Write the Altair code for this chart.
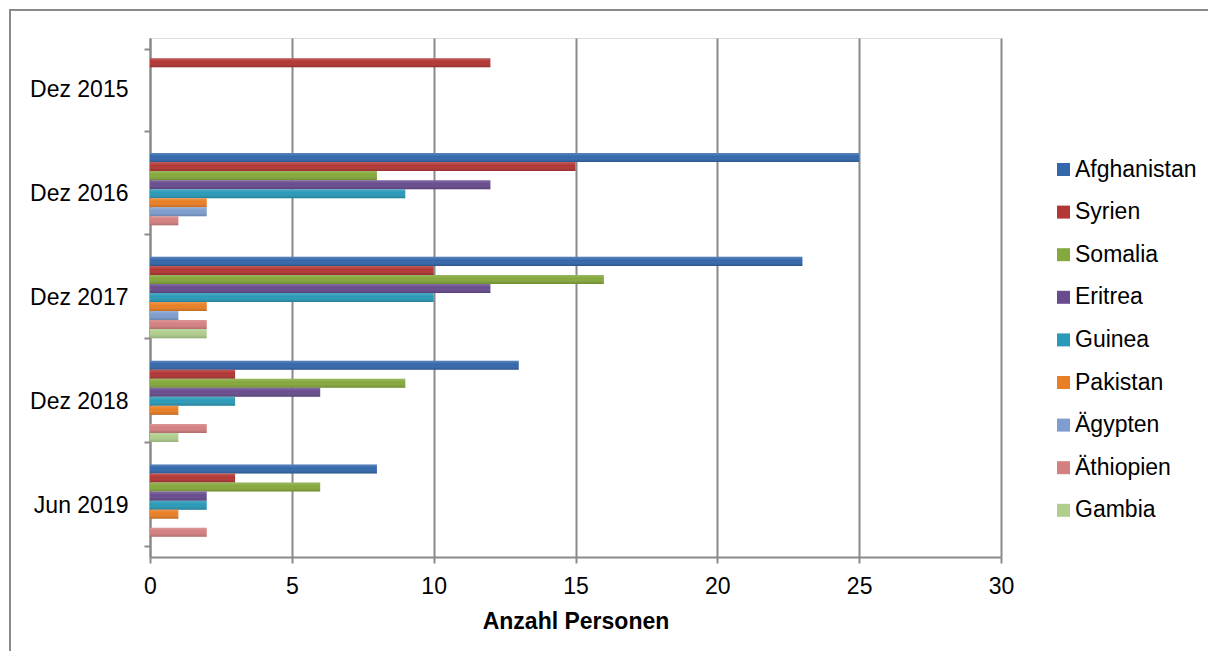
import altair as alt
import pandas as pd

categories = ["Dez 2015", "Dez 2016", "Dez 2017", "Dez 2018", "Jun 2019"]
countries = ["Afghanistan", "Syrien", "Somalia", "Eritrea", "Guinea",
             "Pakistan", "Ägypten", "Äthiopien", "Gambia"]
colors = ["#3468AC", "#B23735", "#85A83C", "#684C8E", "#2A9AB8",
          "#E97F25", "#7E9ECF", "#D48080", "#B0CE8E"]

afghanistan = [0, 25, 23, 13, 8]
syrien = [12, 15, 10, 3, 3]
somalia = [0, 8, 16, 9, 6]
eritrea = [0, 12, 12, 6, 2]
guinea = [0, 9, 10, 3, 2]
pakistan = [0, 2, 2, 1, 1]
aegypten = [0, 2, 1, 0, 0]
aethiopien = [0, 1, 2, 2, 2]
gambia = [0, 0, 2, 1, 0]

series = [afghanistan, syrien, somalia, eritrea, guinea,
          pakistan, aegypten, aethiopien, gambia]

rows = []
for country, vals in zip(countries, series):
    for cat, v in zip(categories, vals):
        rows.append({"Zeitpunkt": cat, "Land": country, "Anzahl": v})
df = pd.DataFrame(rows)

FONT = "Liberation Sans"
GRAY = "#8a8a8a"

y_enc = alt.Y("Zeitpunkt:N", sort=categories,
              scale=alt.Scale(paddingInner=0.217, paddingOuter=0.108),
              axis=alt.Axis(title=None, labelFontSize=23, labelFont=FONT,
                            labelColor="#000000", tickBand="extent",
                            tickSize=6, tickColor=GRAY, tickWidth=2,
                            domainColor=GRAY, domainWidth=2,
                            labelPadding=16, grid=False))
x_enc = alt.X("Anzahl:Q", scale=alt.Scale(domain=[0, 30], nice=False),
              axis=alt.Axis(title="Anzahl Personen", values=[0, 5, 10, 15, 20, 25, 30],
                            labelFontSize=23, labelFont=FONT, labelColor="#000000",
                            labelFlush=False,
                            titleFontSize=23, titleFont=FONT, titleFontWeight="bold",
                            titleColor="#000000", titlePadding=12,
                            tickSize=6, tickColor=GRAY, tickWidth=2,
                            domainColor=GRAY, domainWidth=2, labelPadding=12,
                            grid=True, gridColor=GRAY, gridWidth=2))
yoff = alt.YOffset("Land:N", sort=countries)

bars = alt.Chart(df).mark_bar().encode(
    y=y_enc,
    x=x_enc,
    yOffset=yoff,
    color=alt.Color("Land:N", sort=countries,
                    scale=alt.Scale(domain=countries, range=colors),
                    legend=alt.Legend(title=None, orient="none", legendX=902,
                                      legendY=120, labelFontSize=23, labelFont=FONT,
                                      labelColor="#000000", symbolType="square",
                                      symbolSize=169, symbolStrokeWidth=0,
                                      labelOffset=0, rowPadding=18.6, padding=0)),
)

shade = alt.Chart(df).mark_bar(
    fill=alt.Gradient(gradient="linear",
                      stops=[alt.GradientStop(color="rgba(255,255,255,0.18)", offset=0),
                             alt.GradientStop(color="rgba(255,255,255,0.0)", offset=0.4),
                             alt.GradientStop(color="rgba(0,0,0,0.18)", offset=1)],
                      x1=0, x2=0, y1=0, y2=1)
).encode(y=y_enc, x=x_enc, yOffset=yoff)

border = alt.Chart(pd.DataFrame({"a": [0]})).mark_rect(
    filled=False, stroke=GRAY, strokeWidth=2
).encode(x=alt.value(-140), x2=alt.value(1100), y=alt.value(-28), y2=alt.value(700))

chart = alt.layer(bars, shade, border).properties(
    width=851, height=519,
    autosize=alt.AutoSizeParams(type="none"),
    padding={"left": 142, "top": 30, "right": 207, "bottom": 94},
).configure_view(stroke=None).configure(background="white")

chart.save("out.html", embed_options={"renderer": "svg", "actions": False})
